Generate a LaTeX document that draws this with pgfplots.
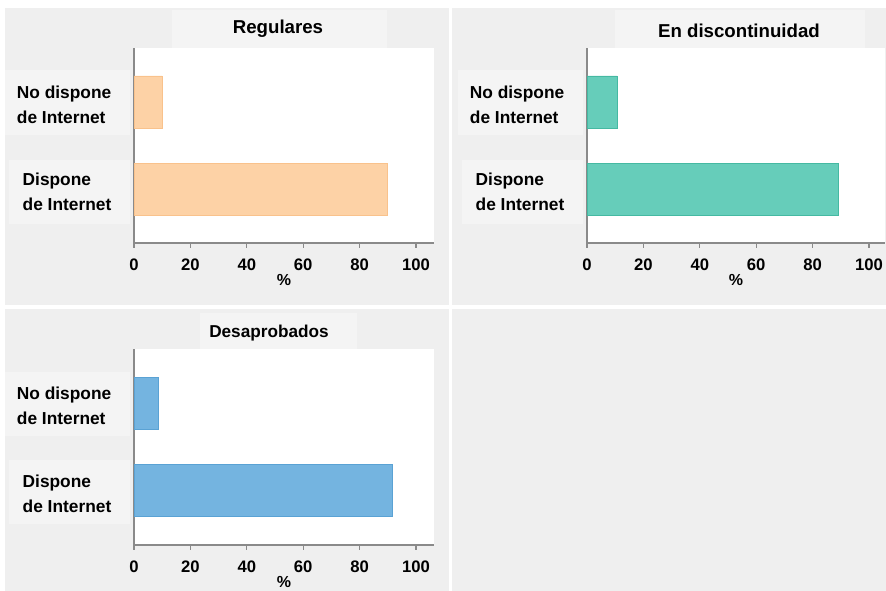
\documentclass[border=0pt]{standalone}
\usepackage{fontspec}
\setmainfont{Liberation Sans}
\usepackage{pgfplots}
\pgfplotsset{compat=1.18}
\definecolor{bgpanel}{HTML}{EFEFEF}
\definecolor{bgbox}{HTML}{F4F4F4}
\definecolor{axgray}{HTML}{8A8A8A}
\definecolor{peach}{HTML}{FDD2A6}
\definecolor{peachE}{HTML}{F9C28C}
\definecolor{teal}{HTML}{66CDBA}
\definecolor{tealE}{HTML}{45B9A2}
\definecolor{bblue}{HTML}{74B4E0}
\definecolor{bblueE}{HTML}{5AA2D4}
\pgfplotsset{
  panel/.style={
    scale only axis,
    width=225pt, height=146.25pt,
    xmin=0, xmax=106.4,
    ymin=-0.62, ymax=1.62,
    axis background/.style={fill=white},
    axis x line*=bottom, axis y line*=left,
    axis line style={axgray, line width=0.9pt},
    xtick={0,20,40,60,80,100},
    ytick={0,1},
    yticklabels={{Dispone\\de Internet},{No dispone\\de Internet}},
    tick align=outside,
    major tick length=3.5pt,
    x tick style={axgray, line width=0.9pt},
    y tick style={draw=none},
    /pgf/number format/assume math mode=true,
    xticklabel style={font=\fontsize{12.5}{14}\selectfont\bfseries, yshift=-5pt},
    yticklabel style={font=\fontsize{13}{18.75}\selectfont\bfseries, align=left, xshift=-10pt, yshift=-2pt},
    xlabel={\%},
    xlabel style={font=\fontsize{12}{14}\selectfont\bfseries, yshift=4pt},
    xbar, bar width=39pt,
    enlargelimits=false,
    clip=false,
  }
}
\begin{document}
\begin{tikzpicture}
% backgrounds
\fill[white] (0pt,0pt) rectangle (664.5pt,-443.25pt);
\fill[bgpanel] (3.75pt,-6pt) rectangle (336.75pt,-228.75pt);
\fill[bgpanel] (339pt,-6pt) rectangle (664.5pt,-228.75pt);
\fill[bgpanel] (3.75pt,-231.75pt) rectangle (336.75pt,-443.25pt);
\fill[bgpanel] (339pt,-231.75pt) rectangle (664.5pt,-443.25pt);
% title boxes
\fill[bgbox] (129pt,-7.5pt) rectangle (290.25pt,-36pt);
\fill[bgbox] (461.25pt,-7.5pt) rectangle (648.75pt,-36pt);
\fill[bgbox] (150pt,-234.75pt) rectangle (267.75pt,-261.75pt);
% label boxes
\fill[bgbox] (3.75pt,-52.5pt) rectangle (97.5pt,-101.25pt);
\fill[bgbox] (6.75pt,-120pt) rectangle (97.5pt,-168pt);
\fill[bgbox] (343.5pt,-52.5pt) rectangle (437.25pt,-101.25pt);
\fill[bgbox] (346.5pt,-120pt) rectangle (437.25pt,-168pt);
\fill[bgbox] (3.75pt,-279pt) rectangle (97.5pt,-327pt);
\fill[bgbox] (6.75pt,-345pt) rectangle (97.5pt,-393pt);

% Panel 1: Regulares
\begin{axis}[panel, at={(100.5pt,-182.25pt)}, anchor=south west,
  title={Regulares},
  title style={font=\fontsize{14}{16}\selectfont\bfseries, at={(axis description cs:0.48,1)}, yshift=-1.5pt}]
\addplot[fill=peach, draw=peachE, line width=0.6pt] coordinates {(90,0) (10,1)};
\end{axis}

% Panel 2: En discontinuidad
\begin{axis}[panel, at={(440.25pt,-182.25pt)}, anchor=south west,
  width=223.5pt, xmax=105.7,
  title={En discontinuidad},
  title style={font=\fontsize{14}{16}\selectfont\bfseries, at={(axis description cs:0.51,1)}, yshift=-1.5pt}]
\addplot[fill=teal, draw=tealE, line width=0.6pt] coordinates {(89.3,0) (10.7,1)};
\end{axis}

% Panel 3: Desaprobados
\begin{axis}[panel, at={(100.5pt,-408.75pt)}, anchor=south west,
  height=147pt,
  title={Desaprobados},
  title style={font=\fontsize{12.9}{15}\selectfont\bfseries, at={(axis description cs:0.45,1)}, yshift=-3.75pt}]
\addplot[fill=bblue, draw=bblueE, line width=0.6pt] coordinates {(91.5,0) (8.5,1)};
\end{axis}

\pgfresetboundingbox
\useasboundingbox (0pt,0pt) rectangle (664.5pt,-443.25pt);
\end{tikzpicture}
\end{document}
